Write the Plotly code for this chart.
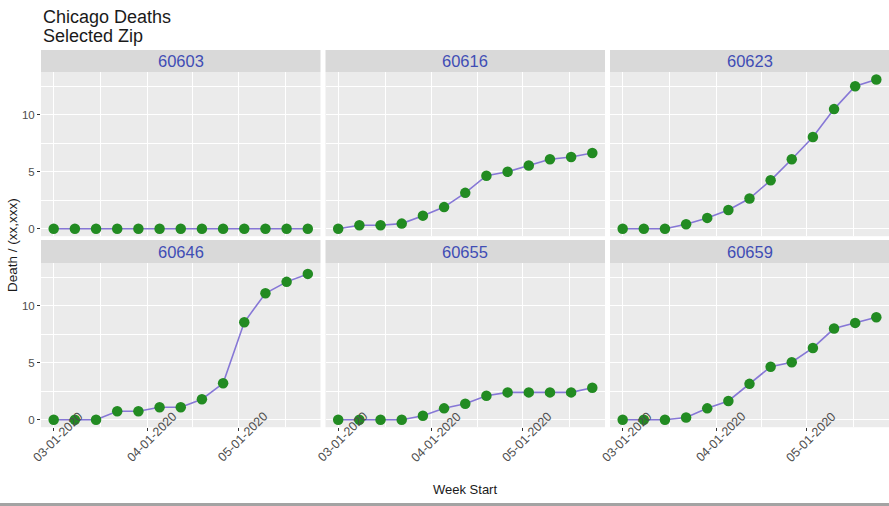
import plotly.graph_objects as go
from plotly.subplots import make_subplots

# Weekly cumulative deaths per zip code (per xx,xxx residents)
week_start = ["2020-03-01", "2020-03-08", "2020-03-15", "2020-03-22", "2020-03-29",
              "2020-04-05", "2020-04-12", "2020-04-19", "2020-04-26", "2020-05-03",
              "2020-05-10", "2020-05-17", "2020-05-24"]

zips = ["60603", "60616", "60623", "60646", "60655", "60659"]

deaths_60603 = [0.0, 0.0, 0.0, 0.0, 0.0, 0.0, 0.0, 0.0, 0.0, 0.0, 0.0, 0.0, 0.0]
deaths_60616 = [0.0, 0.3, 0.3, 0.45, 1.15, 1.9, 3.15, 4.65, 5.0, 5.55, 6.1, 6.3, 6.65]
deaths_60623 = [0.0, 0.0, 0.0, 0.4, 0.95, 1.65, 2.65, 4.25, 6.1, 8.05, 10.5, 12.5, 13.1]
deaths_60646 = [0.0, 0.0, 0.0, 0.75, 0.75, 1.1, 1.1, 1.8, 3.2, 8.55, 11.1, 12.1, 12.8]
deaths_60655 = [0.0, 0.0, 0.0, 0.0, 0.35, 1.0, 1.4, 2.1, 2.4, 2.4, 2.4, 2.4, 2.8]
deaths_60659 = [0.0, 0.0, 0.0, 0.2, 1.0, 1.65, 3.15, 4.65, 5.05, 6.3, 8.0, 8.5, 9.0]

series = [deaths_60603, deaths_60616, deaths_60623, deaths_60646, deaths_60655, deaths_60659]

x_tick_vals = ["2020-03-01", "2020-04-01", "2020-05-01"]
x_tick_text = ["03-01-2020", "04-01-2020", "05-01-2020"]
x_minor_vals = ["2020-03-16 12:00", "2020-04-16", "2020-05-16 12:00"]
y_tick_vals = [0, 5, 10]
y_minor_vals = [2.5, 7.5, 12.5]

title_lines = ["Chicago Deaths", "Selected Zip"]
x_title = "Week Start"
y_title = "Death / (xx,xxx)"

# ---- page geometry (pixels) ----
W, H = 889, 506
ML = 41
PW = W - ML
FONT = "Liberation Sans, Arial, sans-serif"
LINE_COLOR = "#8677D6"
POINT_COLOR = "#228B22"
PANEL_BG = "#EBEBEB"
STRIP_BG = "#D9D9D9"
STRIP_TEXT = "#3F4DB5"

col_left = [41, 325.5, 610]
col_width = 279.5
# (top, bottom) pixel rows of each panel and strip
row_panel = [(72, 236.2), (263, 427.2)]
row_strip = [(50, 72), (240, 263)]


def px_x(p):
    return (p - ML) / PW


def px_y(p):
    return 1 - p / H


# shared scales: 5% expansion on both axes
x_range = ["2020-02-25 19:12", "2020-05-28 04:48"]
y_max = max(max(s) for s in series)
y_range = [-0.05 * y_max, 1.05 * y_max]

fig = make_subplots(rows=2, cols=3)
shapes = []
annotations = []

for i, (zip_code, vals) in enumerate(zip(zips, series)):
    r, c = divmod(i, 3)
    fig.add_trace(go.Scatter(
        x=week_start, y=vals, mode="lines+markers",
        line=dict(color=LINE_COLOR, width=1.6),
        marker=dict(color=POINT_COLOR, size=10.5, line=dict(width=0)),
        showlegend=False, hoverinfo="x+y",
    ), row=r + 1, col=c + 1)

    x0 = px_x(col_left[c])
    x1 = min(px_x(col_left[c] + col_width), 1.0)
    p_top, p_bot = row_panel[r]
    bottom = (r == 1)
    left = (c == 0)

    fig.update_xaxes(
        domain=[x0, x1], type="date", range=x_range,
        tickmode="array", tickvals=x_tick_vals, showticklabels=False,
        ticks="outside" if bottom else "", ticklen=3, tickwidth=1, tickcolor="#333333",
        showgrid=True, gridcolor="white", gridwidth=1.2,
        minor=dict(tickvals=x_minor_vals, showgrid=True, gridcolor="white",
                   gridwidth=0.6, ticks=""),
        showline=False, zeroline=False, fixedrange=True, automargin=False,
        row=r + 1, col=c + 1,
    )
    fig.update_yaxes(
        domain=[px_y(p_bot), px_y(p_top)], range=y_range,
        tickmode="array", tickvals=y_tick_vals, showticklabels=left,
        ticks="outside" if left else "", ticklen=3, tickwidth=1, tickcolor="#333333",
        tickfont=dict(family=FONT, size=11.5, color="#4D4D4D"),
        showgrid=True, gridcolor="white", gridwidth=1.2,
        minor=dict(tickvals=y_minor_vals, showgrid=True, gridcolor="white",
                   gridwidth=0.6, ticks=""),
        showline=False, zeroline=False, fixedrange=True, automargin=False,
        row=r + 1, col=c + 1,
    )

    # facet strip
    s_top, s_bot = row_strip[r]
    shapes.append(dict(type="rect", xref="paper", yref="paper",
                       x0=x0, x1=x1, y0=px_y(s_bot), y1=px_y(s_top),
                       fillcolor=STRIP_BG, line=dict(width=0)))
    annotations.append(dict(text=zip_code, xref="paper", yref="paper",
                            x=(x0 + x1) / 2, y=px_y((s_top + s_bot) / 2),
                            xanchor="center", yanchor="middle", showarrow=False,
                            font=dict(family=FONT, size=16.5, color=STRIP_TEXT)))

    # rotated date labels under bottom-row panels
    if bottom:
        xref = "x" if i == 0 else f"x{i + 1}"
        for tv, tt in zip(x_tick_vals, x_tick_text):
            annotations.append(dict(text=tt, xref=xref, yref="paper", x=tv,
                                    y=px_y(437), xshift=4.5, textangle=-45,
                                    xanchor="center", yanchor="middle", showarrow=False,
                                    font=dict(family=FONT, size=12.5, color="#4D4D4D")))

# titles
annotations.append(dict(text=title_lines[0], xref="paper", yref="paper", x=0, y=px_y(17),
                        xanchor="left", yanchor="middle", showarrow=False,
                        font=dict(family=FONT, size=18, color="#1A1A1A")))
annotations.append(dict(text=title_lines[1], xref="paper", yref="paper", x=0, y=px_y(35.5),
                        xanchor="left", yanchor="middle", showarrow=False,
                        font=dict(family=FONT, size=18, color="#1A1A1A")))
annotations.append(dict(text=x_title, xref="paper", yref="paper", x=px_x(465), y=px_y(489),
                        xanchor="center", yanchor="middle", showarrow=False,
                        font=dict(family=FONT, size=13, color="#1A1A1A")))
annotations.append(dict(text=y_title, xref="paper", yref="paper", x=px_x(12), y=px_y(245),
                        xanchor="center", yanchor="middle", showarrow=False, textangle=-90,
                        font=dict(family=FONT, size=13.5, color="#1A1A1A")))

# thin grey rule along the bottom edge
shapes.append(dict(type="rect", xref="paper", yref="paper",
                   x0=px_x(0), x1=1.0, y0=px_y(506), y1=px_y(503),
                   fillcolor="#A3A3A3", line=dict(width=0)))

fig.update_layout(
    width=W, height=H,
    margin=dict(l=ML, r=0, t=0, b=0, autoexpand=False),
    paper_bgcolor="white", plot_bgcolor=PANEL_BG,
    font=dict(family=FONT),
    shapes=shapes, annotations=annotations,
)

fig.write_html("out.html")
